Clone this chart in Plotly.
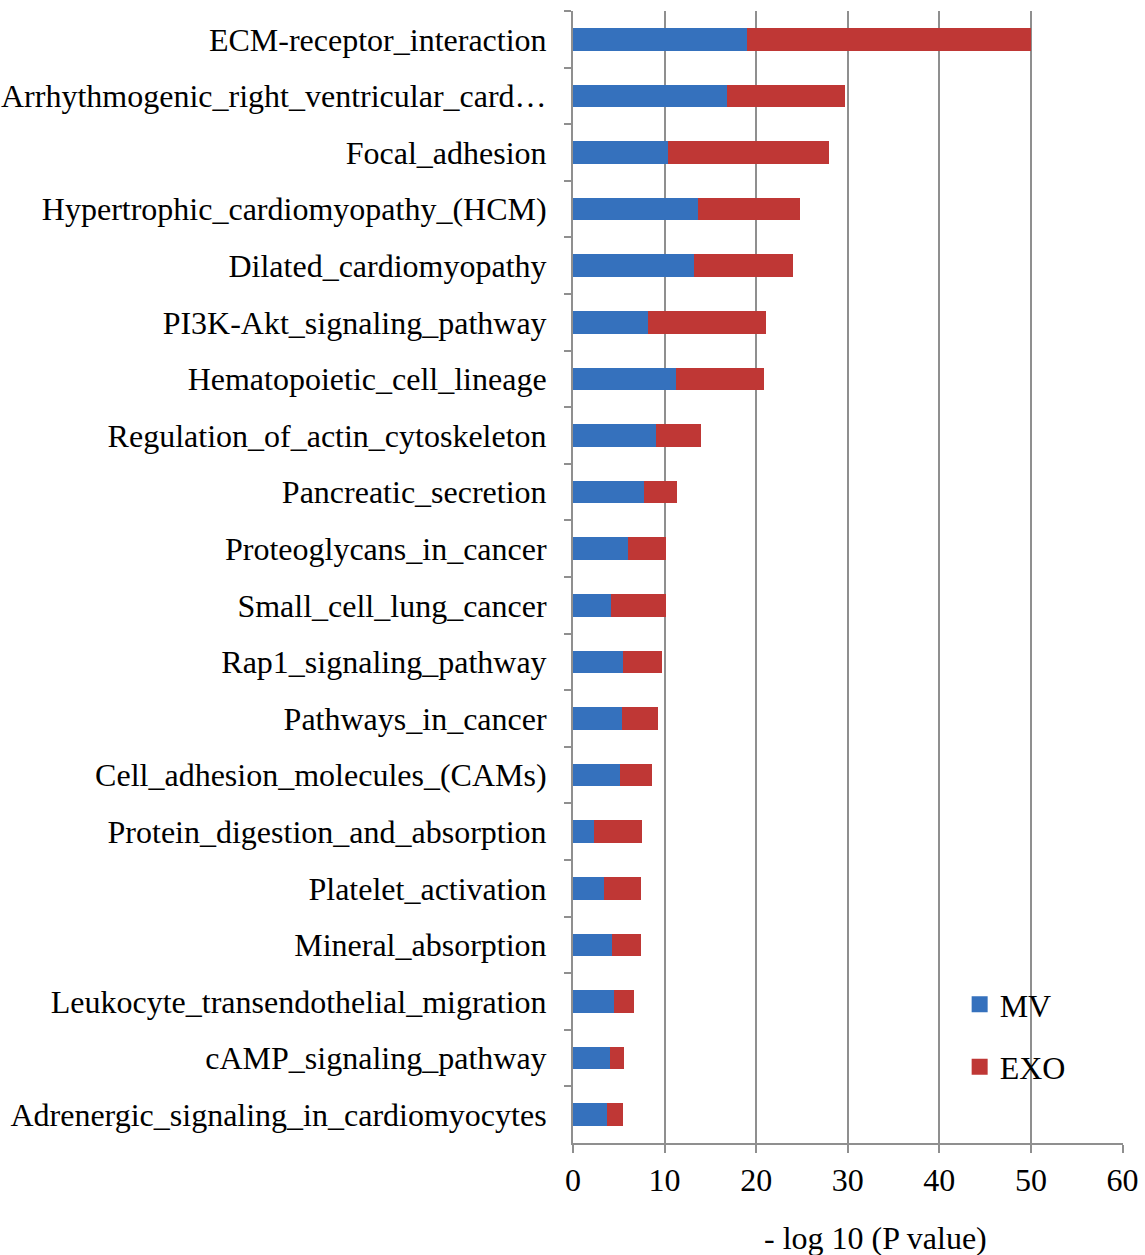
import plotly.graph_objects as go

# KEGG pathways, top to bottom
pathways = [
    "ECM-receptor_interaction",
    "Arrhythmogenic_right_ventricular_card\u2026",
    "Focal_adhesion",
    "Hypertrophic_cardiomyopathy_(HCM)",
    "Dilated_cardiomyopathy",
    "PI3K-Akt_signaling_pathway",
    "Hematopoietic_cell_lineage",
    "Regulation_of_actin_cytoskeleton",
    "Pancreatic_secretion",
    "Proteoglycans_in_cancer",
    "Small_cell_lung_cancer",
    "Rap1_signaling_pathway",
    "Pathways_in_cancer",
    "Cell_adhesion_molecules_(CAMs)",
    "Protein_digestion_and_absorption",
    "Platelet_activation",
    "Mineral_absorption",
    "Leukocyte_transendothelial_migration",
    "cAMP_signaling_pathway",
    "Adrenergic_signaling_in_cardiomyocytes",
]

# -log10(P) for microvesicles
mv = [19.0, 16.85, 10.4, 13.6, 13.2, 8.15, 11.25, 9.1, 7.7, 6.0,
      4.15, 5.5, 5.3, 5.1, 2.3, 3.35, 4.3, 4.45, 4.05, 3.7]
# -log10(P) for exosomes (stacked after MV)
exo = [31.0, 12.85, 17.5, 11.2, 10.8, 12.95, 9.65, 4.9, 3.65, 4.1,
       5.95, 4.2, 4.0, 3.5, 5.2, 4.05, 3.1, 2.2, 1.5, 1.75]

x_ticks = [0, 10, 20, 30, 40, 50, 60]

series_names = ["MV", "EXO"]
series_colors = ["#3571BD", "#BF3735"]

FONT = "Times New Roman, Liberation Serif, serif"
GRID = "#8f8f8f"
FS = 32

fig = go.Figure()
for name, vals, col in zip(series_names, [mv, exo], series_colors):
    fig.add_trace(go.Bar(
        y=pathways, x=vals, orientation="h", name=name,
        marker=dict(color=col, line=dict(width=0)),
        showlegend=False,
    ))

# square legend keys
for i, (name, col) in enumerate(zip(series_names, series_colors)):
    fig.add_trace(go.Scatter(
        x=[None], y=[None], mode="markers", name=name,
        marker=dict(symbol="square", size=16, color=col),
        legendgroup=f"g{i}", showlegend=True,
    ))

fig.update_layout(
    barmode="stack",
    bargap=0.6,
    width=1145,
    height=1255,
    margin=dict(l=573, r=22, t=11, b=112, autoexpand=False),
    paper_bgcolor="white",
    plot_bgcolor="white",
    font=dict(family=FONT, size=FS, color="black"),
    showlegend=True,
    legend=dict(
        x=0.703, y=0.1467, xanchor="left", yanchor="top",
        traceorder="grouped", tracegroupgap=18,
        font=dict(family=FONT, size=FS, color="black"),
        bgcolor="rgba(0,0,0,0)",
    ),
    xaxis=dict(
        range=[0, 60.05],
        automargin=False,
        tickvals=x_ticks,
        ticktext=[str(v) for v in x_ticks],
        showgrid=True, gridcolor=GRID, gridwidth=2,
        showline=True, linecolor=GRID, linewidth=2,
        zeroline=False,
        ticks="outside", ticklen=8, tickwidth=2, tickcolor=GRID,
        ticklabelstandoff=0,
        tickfont=dict(family=FONT, size=FS, color="black"),
    ),
    yaxis=dict(
        categoryorder="array", categoryarray=pathways,
        autorange="reversed",
        automargin=False,
        showgrid=False,
        showline=True, linecolor=GRID, linewidth=2,
        ticks="outside", tickson="boundaries", ticklen=7, tickwidth=2, tickcolor=GRID,
        ticklabelstandoff=18,
        tickfont=dict(family=FONT, size=FS, color="black"),
    ),
    annotations=[dict(
        text="- log 10 (P value)",
        xref="paper", yref="paper", x=0.55, y=-0.084,
        xanchor="center", yanchor="middle", showarrow=False,
        font=dict(family=FONT, size=FS, color="black"),
    )],
)

fig.write_html("out.html")
